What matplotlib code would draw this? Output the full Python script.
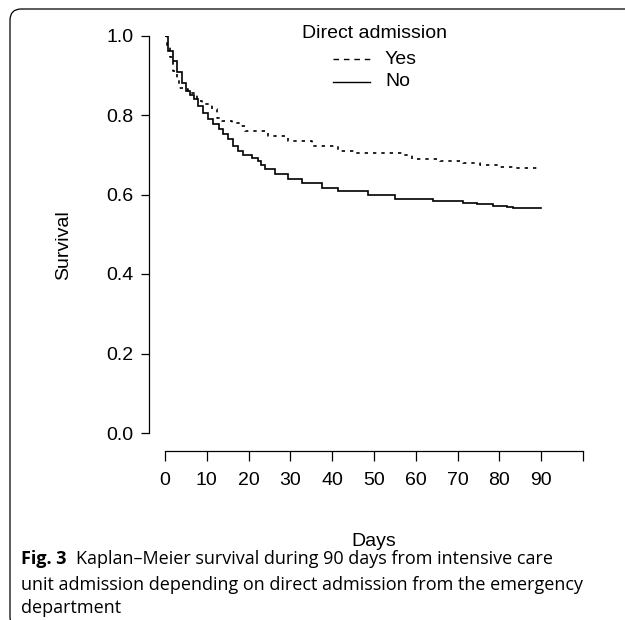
import matplotlib
matplotlib.use("Agg")
import matplotlib.pyplot as plt
from matplotlib.patches import FancyBboxPatch
from matplotlib.lines import Line2D

# ---- data ----
no_days = [0, 0.8, 1.8, 2.8, 4.0, 5.0, 6.0, 7.0, 8.0, 9.2, 10.4, 11.6, 12.8, 13.9,
           15.1, 16.3, 17.5, 18.7, 20.7, 22.3, 23.0, 23.9, 26.3, 29.5, 32.7, 37.5,
           41.5, 48.6, 55.0, 64.2, 71.4, 74.6, 78.5, 81.7, 83.3, 90]
no_surv = [1.0, 0.96, 0.936, 0.907, 0.88, 0.86, 0.85, 0.84, 0.823, 0.804, 0.789,
           0.777, 0.764, 0.751, 0.739, 0.722, 0.71, 0.70, 0.693, 0.684, 0.673,
           0.663, 0.651, 0.638, 0.63, 0.617, 0.609, 0.598, 0.589, 0.583, 0.579,
           0.575, 0.571, 0.568, 0.567, 0.567]
yes_days = [0, 0.5, 1.2, 2.0, 2.8, 3.3, 4.8, 5.6, 7.6, 8.8, 11.2, 12.4, 13.6, 16.0,
            18.3, 19.1, 24.7, 29.5, 35.1, 41.5, 45.5, 57.0, 59.0, 65.8, 71.4, 75.4,
            80.0, 84.0, 90]
yes_surv = [1.0, 0.97, 0.945, 0.911, 0.894, 0.869, 0.865, 0.856, 0.835, 0.827,
            0.814, 0.793, 0.785, 0.781, 0.773, 0.76, 0.747, 0.735, 0.722, 0.71,
            0.704, 0.699, 0.69, 0.684, 0.68, 0.673, 0.67, 0.666, 0.666]
x_ticks = [0, 10, 20, 30, 40, 50, 60, 70, 80, 90, 100]
x_tick_labels = ["0", "10", "20", "30", "40", "50", "60", "70", "80", "90", ""]
y_ticks = [0.0, 0.2, 0.4, 0.6, 0.8, 1.0]
y_tick_labels = ["0.0", "0.2", "0.4", "0.6", "0.8", "1.0"]
legend_title = "Direct admission"
legend_labels = ["Yes", "No"]

W, H = 625, 620
fig = plt.figure(figsize=(W / 100, H / 100), dpi=100)
fig.patch.set_facecolor("white")

def fx(px):
    return px / W

def fy(py):
    return 1 - py / H

# plot region (pixel coords)
x0, x1 = 165, 583     # day 0 .. 100
ytop, ybot = 35.5, 433  # surv 1 .. 0
ax = fig.add_axes([fx(x0), fy(ybot), fx(x1) - fx(x0), (ybot - ytop) / H])
ax.set_xlim(0, 100)
ax.set_ylim(0, 1)
ax.patch.set_alpha(0)

ax.step(no_days, no_surv, where="post", color="black", lw=1.2, solid_joinstyle="miter")
ax.step(yes_days, yes_surv, where="post", color="black", lw=1.2, linestyle=(0, (2, 3)))

tick_font = dict(family=["Liberation Sans", "DejaVu Sans"], size=14)
for s in ["top", "right"]:
    ax.spines[s].set_visible(False)
ax.spines["left"].set_position(("outward", 11.5))
ax.spines["left"].set_bounds(0, 1)
ax.spines["bottom"].set_position(("outward", 13))
ax.spines["bottom"].set_bounds(0, 100)
for s in ["left", "bottom"]:
    ax.spines[s].set_linewidth(0.9)
ax.set_xticks(x_ticks)
ax.set_xticklabels(x_tick_labels, fontdict=tick_font)
ax.set_yticks(y_ticks)
ax.set_yticklabels(y_tick_labels, fontdict=tick_font)
ax.tick_params(axis="y", direction="out", length=6, width=0.9, pad=5)
ax.tick_params(axis="x", direction="out", length=7, width=0.9, pad=8)

fig.text(fx(374), fy(542), "Days", ha="center", va="center", **tick_font)
fig.text(fx(64), fy(245), "Survival", ha="center", va="center", rotation=90, **tick_font)

# legend
fig.text(fx(374), fy(33), legend_title, ha="center", va="center", **tick_font)
lx0, lx1, ltx = 333, 370, 385
for i, (lab, ls) in enumerate(zip(legend_labels, [(0, (4, 3.5)), "-"])):
    yy = 59 + i * 23
    fig.add_artist(Line2D([fx(lx0), fx(lx1)], [fy(yy), fy(yy)], color="black",
                          lw=1.0, linestyle=ls, transform=fig.transFigure))
    fig.text(fx(ltx), fy(yy), lab, ha="left", va="center", **tick_font)

# frame
frame = FancyBboxPatch((fx(10), fy(628)), fx(720) - fx(10), fy(9) - fy(628),
                       boxstyle="round,pad=0,rounding_size=0.018",
                       transform=fig.transFigure, fill=False, ec="black", lw=0.9,
                       clip_on=False)
fig.add_artist(frame)

# caption
cap_font = ["Open Sans", "DejaVu Sans"]
cs = 13
cx = 21
t1 = fig.text(fx(cx), fy(559), "Fig. 3", ha="left", va="center", family=cap_font,
              weight="bold", size=cs)
fig.canvas.draw()
bb = t1.get_window_extent()
fig.text((bb.x1 + 9) / W, fy(559),
         "Kaplan\u2013Meier survival during 90 days from intensive care",
         ha="left", va="center", family=cap_font, size=cs)
fig.text(fx(cx), fy(585),
         "unit admission depending on direct admission from the emergency",
         ha="left", va="center", family=cap_font, size=cs)
fig.text(fx(cx), fy(608), "department", ha="left", va="center", family=cap_font, size=cs)

fig.savefig("out.png", dpi=100, facecolor="white")
